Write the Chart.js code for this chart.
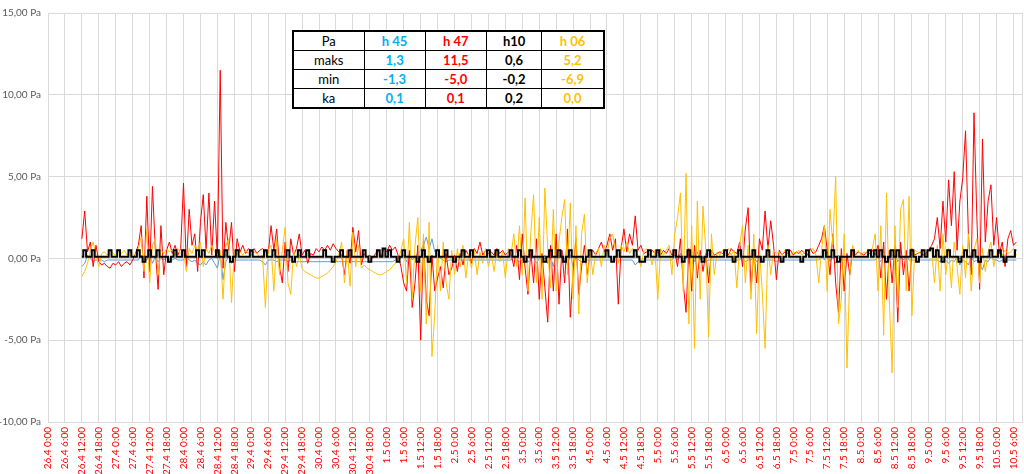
<!DOCTYPE html>
<html>
<head>
<meta charset="utf-8">
<script src="https://cdn.jsdelivr.net/npm/chart.js@4/dist/chart.umd.min.js"></script>
<style>
	body { margin: 0; background: #fff; }
	#wrap { position: relative; width: 1024px; height: 474px; }
	#stats {
		position: absolute; left: 292px; top: 30px; width: 313px; height: 77px;
		border-collapse: collapse; border: 2px solid #000; background: #fff;
		font-family: Lato, "Liberation Sans", sans-serif; font-size: 13px;
	}
	#stats td { border: 1px solid #000; text-align: center; padding: 0; height: 18px; }
	#stats td.b { font-weight: bold; }
</style>
</head>
<body>
<div id="wrap">
	<canvas id="chart" width="1024" height="474"></canvas>
	<table id="stats"></table>
</div>
<script>
// hours since 26.4 0:00 of the first sample, one sample per hour
const startHour = 12;

const tickLabels = [
	'26.4 0:00', '26.4 6:00', '26.4 12:00', '26.4 18:00',
	'27.4 0:00', '27.4 6:00', '27.4 12:00', '27.4 18:00',
	'28.4 0:00', '28.4 6:00', '28.4 12:00', '28.4 18:00',
	'29.4 0:00', '29.4 6:00', '29.4 12:00', '29.4 18:00',
	'30.4 0:00', '30.4 6:00', '30.4 12:00', '30.4 18:00',
	'1.5 0:00', '1.5 6:00', '1.5 12:00', '1.5 18:00',
	'2.5 0:00', '2.5 6:00', '2.5 12:00', '2.5 18:00',
	'3.5 0:00', '3.5 6:00', '3.5 12:00', '3.5 18:00',
	'4.5 0:00', '4.5 6:00', '4.5 12:00', '4.5 18:00',
	'5.5 0:00', '5.5 6:00', '5.5 12:00', '5.5 18:00',
	'6.5 0:00', '6.5 6:00', '6.5 12:00', '6.5 18:00',
	'7.5 0:00', '7.5 6:00', '7.5 12:00', '7.5 18:00',
	'8.5 0:00', '8.5 6:00', '8.5 12:00', '8.5 18:00',
	'9.5 0:00', '9.5 6:00', '9.5 12:00', '9.5 18:00',
	'10.5 0:00', '10.5 6:00'
];

const h45 = [
	-0.5, -0.3, 0.2, 0.0, -0.2, -0.1, -0.1, -0.1, -0.2, -0.1, -0.1, -0.1,
	-0.1, -0.1, -0.1, -0.1, -0.1, -0.1, -0.1, -0.1, -0.1, 0.2, -0.2, -0.1,
	0.3, -0.3, 0.1, -0.2, 0.0, -0.1, 0.1, -0.1, -0.1, 0.0, -0.1, -0.1,
	-0.1, 0.2, -0.1, -0.2, -0.1, -0.3, -0.4, -0.2, -0.4, -0.1, 0.0, -0.3,
	-0.6, 0.3, -1.3, -0.2, 0.1, -0.3, -0.1, -0.1, -0.1, -0.1, -0.1, -0.1,
	-0.1, -0.1, -0.1, -0.1, -0.2, -0.4, -0.1, -0.1, -0.1, -0.2, -0.1, -0.1,
	-0.1, -0.2, -0.1, -0.1, -0.2, -0.2, -0.2, -0.2, -0.2, -0.2, -0.2, -0.2,
	-0.2, -0.2, -0.2, -0.2, -0.2, -0.2, -0.2, -0.2, -0.2, -0.2, -0.2, -0.2,
	-0.2, -0.2, -0.2, -0.2, -0.2, -0.2, -0.2, -0.2, -0.2, -0.2, -0.2, -0.2,
	-0.2, -0.2, -0.2, -0.1, -0.1, 0.0, 0.2, -0.2, 0.3, -0.1, 0.1, 0.3,
	0.5, 0.8, 1.3, 0.6, 1.2, 0.4, 0.2, 0.0, -0.1, -0.2, -0.1, -0.1,
	-0.1, -0.1, -0.1, -0.1, -0.1, -0.1, -0.1, -0.1, -0.1, -0.1, -0.1, -0.1,
	-0.1, -0.1, -0.1, -0.1, -0.1, -0.1, -0.1, -0.1, -0.1, 0.1, -0.1, -0.2,
	-0.1, 0.2, -0.2, -0.1, 0.1, -0.3, 0.0, -0.1, 0.2, -0.3, 0.1, -0.5,
	0.3, 0.0, 0.5, -0.2, -0.4, 0.2, -0.5, 0.1, -0.1, -0.2, -0.1, -0.1,
	-0.1, -0.1, -0.1, -0.1, -0.1, -0.1, -0.1, -0.1, -0.1, -0.1, -0.1, -0.1,
	-0.1, -0.1, -0.1, -0.1, -0.4, -0.2, -0.1, -0.1, -0.1, -0.1, -0.1, -0.1,
	-0.1, -0.1, -0.1, -0.1, -0.1, -0.1, 0.2, -0.1, 0.3, -0.2, 0.1, -0.3,
	0.2, -0.2, 0.4, -0.1, 0.1, -0.2, -0.1, -0.1, -0.1, -0.1, -0.1, -0.1,
	-0.1, -0.1, -0.1, -0.1, -0.1, -0.1, 0.1, -0.2, -0.1, -0.1, 0.1, -0.2,
	-0.1, -0.1, -0.1, -0.1, -0.1, -0.1, -0.2, -0.1, -0.1, -0.1, -0.1, -0.1,
	-0.1, -0.1, -0.1, -0.1, -0.1, -0.1, -0.1, -0.1, -0.1, -0.1, 0.1, -0.1,
	0.4, -0.2, 0.1, -0.3, 0.2, -0.1, -0.1, -0.1, -0.1, -0.1, -0.1, -0.1,
	-0.1, -0.1, -0.1, -0.1, -0.1, -0.1, 0.1, -0.2, 0.2, -0.3, 0.1, -0.1,
	0.3, -0.2, 0.1, -0.1, 0.2, -0.1, -0.1, -0.1, -0.1, -0.1, -0.1, -0.1,
	-0.1, -0.1, -0.1, -0.1, -0.2, 0.1, -0.1, -0.3, -0.1, -0.2, 0.1, -0.4,
	-0.1, -0.2, -0.4, 0.1, -0.2, -0.1, -0.3, -0.7, -0.1, -0.2, 0.1, -0.1,
	-0.1, -0.2, -0.1, -0.1, -0.1, -0.1, -0.1, -0.1
];

const h47 = [
	1.2, 2.9, 0.4, 1.0, -0.5, 0.8, -0.2, -0.4, -0.3, -0.5, -0.6, -0.3,
	-0.4, -0.2, -0.5, -0.3, -0.2, -0.4, -0.1, 0.3, 0.8, 2.0, -1.2, 3.8,
	-0.8, 4.4, 0.6, -1.9, 2.0, -1.0, 0.5, 1.0, 0.3, 0.8, 0.2, 0.6,
	4.6, -0.5, 3.0, 0.8, 1.5, -0.8, 2.2, 3.9, 0.5, 4.0, 0.2, 3.5,
	0.0, 11.5, -0.6, 2.2, 0.5, 2.2, -0.8, 1.2, 0.4, 0.8, 0.3, 0.6,
	0.4, 0.6, 0.3, 0.5, 0.6, 0.4, 0.3, 2.0, 0.5, 1.8, -0.5, -1.5,
	1.0, -0.8, 1.2, 0.2, 0.6, 1.5, 0.2, 0.5, -0.3, 0.3, 0.2, 0.6,
	0.4, 0.7, 0.5, 0.8, 0.5, 0.9, 0.6, 0.4, 0.2, -1.0, 0.5, -0.3,
	1.9, 0.4, 1.7, -0.4, 0.3, 0.1, 0.2, 0.0, 0.3, 0.5, 0.1, 0.6,
	0.4, 0.8, 0.5, 0.7, 0.2, -0.5, -1.5, -2.0, 0.5, -3.0, -1.5, 0.8,
	-5.0, 1.1, -2.5, -3.5, 0.2, -2.0, -1.2, -0.5, -1.8, 0.3, -1.0, -0.6,
	0.2, -0.8, 0.3, -0.4, 0.5, 0.2, -0.3, 0.6, 0.3, 1.0, 0.2, 0.5,
	0.3, 0.4, 0.2, 0.6, 0.3, 0.5, 0.2, 0.4, 0.3, -0.5, 0.8, -1.3,
	1.5, -0.6, -2.2, 0.5, -1.5, 1.2, -2.5, 0.3, -1.8, -3.9, 0.8, -2.0,
	1.5, -2.8, 0.5, -1.5, 1.8, -3.6, -0.8, 1.2, -2.2, -0.5, 0.8, -1.0,
	0.3, 0.5, 0.2, 0.6, 1.0, 0.4, 0.8, 1.5, 0.5, 1.2, -2.8, 0.6,
	1.8, 0.4, 1.5, 0.8, 2.6, 0.5, 0.8, 0.3, 0.4, 0.2, 0.5, 0.3,
	0.4, 0.2, 0.5, 0.3, 0.6, 0.2, 0.4, -0.5, 1.2, -1.5, -3.3, 0.6,
	-2.0, 0.8, -1.2, 0.5, -0.8, 0.3, -1.5, 0.5, 0.2, 0.3, 0.4, 0.3,
	0.5, 0.2, 0.6, 0.4, 0.3, 1.0, -0.5, 1.8, 3.1, -2.0, 0.5, -1.5,
	1.2, 0.5, 2.9, 0.6, 2.3, 0.8, -1.3, 0.5, 0.2, 0.4, 0.3, 0.5,
	0.2, 0.4, 0.3, 0.5, 0.3, 0.2, 0.6, 0.3, 0.4, 0.8, 1.2, 2.0,
	0.5, -1.0, 1.5, -1.5, -3.3, 0.6, -2.0, 0.3, -1.0, 0.5, 0.2, 0.4,
	0.3, 0.2, 0.4, 0.3, 0.5, 0.2, 0.8, -1.2, 1.0, -2.5, 0.5, -1.5,
	0.8, -3.9, 1.0, -1.0, 0.5, -2.0, 0.6, 0.2, 0.3, 0.4, 0.2, 0.3,
	0.5, 0.8, 1.2, 2.5, 0.6, 3.5, 1.0, 4.8, 2.0, 5.3, 0.5, 3.5,
	4.9, 7.8, 1.5, -1.0, 8.9, 2.5, -1.9, 7.3, 1.0, 3.5, 4.5, 0.8,
	2.5, 0.3, 1.0, -0.5, 1.2, 1.7, 0.8, 1.0
];

const h10 = [
	0.1, 0.5, 0.1, 0.1, 0.5, 0.1, 0.1, 0.1, 0.1, 0.1, 0.5, 0.1,
	0.1, 0.5, 0.1, 0.1, 0.1, 0.5, 0.1, 0.1, 0.5, 0.1, -0.2, 0.1,
	0.5, 0.1, 0.1, 0.5, 0.1, 0.1, 0.1, -0.2, 0.1, 0.5, 0.1, 0.1,
	0.5, 0.1, 0.1, 0.1, 0.1, 0.5, 0.1, 0.5, 0.1, 0.1, 0.1, 0.1,
	0.5, 0.1, 0.1, 0.5, 0.1, -0.2, 0.1, 0.5, 0.1, 0.1, 0.1, 0.1,
	0.5, 0.1, 0.1, 0.1, 0.1, 0.5, 0.1, 0.1, 0.5, 0.1, 0.1, 0.1,
	0.1, 0.5, 0.1, -0.2, 0.1, 0.5, 0.1, 0.1, 0.5, 0.1, 0.1, 0.1,
	0.1, 0.1, 0.5, 0.1, 0.1, -0.2, 0.1, 0.1, 0.5, 0.1, 0.1, 0.5,
	0.1, 0.1, 0.1, 0.1, 0.5, 0.1, -0.2, 0.1, 0.1, 0.5, 0.1, 0.6,
	0.1, 0.5, 0.1, 0.1, -0.2, 0.1, 0.5, 0.1, 0.1, 0.1, 0.1, -0.2,
	0.1, 0.5, 0.1, -0.2, 0.1, 0.1, 0.5, 0.1, 0.1, 0.5, 0.1, 0.1,
	-0.2, 0.1, 0.1, 0.5, 0.1, 0.1, 0.5, 0.1, 0.1, 0.1, 0.1, 0.1,
	0.5, 0.1, 0.1, 0.5, 0.1, 0.1, 0.1, 0.1, 0.5, 0.1, 0.1, 0.5,
	0.1, -0.2, 0.1, 0.5, 0.1, 0.1, 0.1, 0.1, -0.2, 0.1, 0.5, 0.1,
	0.1, 0.5, 0.1, -0.2, 0.1, 0.5, 0.1, 0.1, 0.1, 0.1, -0.2, 0.1,
	0.5, 0.1, 0.1, 0.1, 0.1, 0.1, 0.5, 0.1, -0.2, 0.1, 0.5, 0.1,
	0.1, 0.1, 0.1, 0.1, 0.5, 0.1, -0.2, -0.2, 0.1, 0.5, 0.1, 0.1,
	0.5, 0.1, 0.1, 0.1, 0.1, 0.1, 0.5, 0.1, 0.1, -0.2, 0.1, 0.5,
	0.1, 0.1, 0.1, 0.1, -0.2, 0.1, 0.5, 0.1, 0.1, 0.1, 0.1, 0.1,
	0.5, 0.1, 0.1, -0.2, 0.1, 0.5, 0.1, 0.1, 0.1, 0.1, 0.5, 0.1,
	0.1, -0.2, 0.1, 0.5, 0.1, 0.1, 0.1, 0.1, -0.2, 0.1, 0.5, 0.1,
	0.1, 0.1, 0.1, -0.2, 0.1, 0.5, 0.1, 0.1, 0.1, 0.1, 0.1, 0.5,
	0.1, 0.1, 0.5, 0.1, -0.2, 0.1, 0.1, 0.1, 0.1, 0.5, 0.1, 0.1,
	0.1, 0.1, 0.1, 0.5, 0.1, 0.5, 0.1, 0.5, 0.1, -0.2, 0.1, 0.5,
	0.1, 0.5, 0.1, 0.1, 0.1, 0.1, 0.5, 0.1, -0.2, 0.1, 0.5, 0.1,
	0.5, 0.6, 0.1, 0.5, 0.1, -0.2, 0.1, 0.5, 0.1, 0.1, 0.1, -0.2,
	0.1, 0.5, 0.1, 0.1, 0.5, 0.1, -0.2, 0.1, 0.1, 0.1, 0.5, 0.1,
	0.1, 0.5, 0.1, -0.2, 0.1, 0.1, 0.1, 0.5
];

const h06 = [
	-1.1, -0.8, -0.3, 0.5, 1.0, 0.2, -0.5, 0.3, 0.4, 0.2, 0.5, 0.3,
	0.2, 0.4, 0.3, 0.5, 0.2, 0.4, 0.3, 0.2, 0.6, 1.3, -0.8, 1.8,
	-1.5, 0.8, 1.2, -1.0, 0.5, 0.3, 0.6, 0.4, 0.5, 0.2, 0.6, 0.3,
	0.4, -0.8, 0.6, 0.3, 0.8, 0.5, 1.0, -0.5, 0.6, 0.3, 0.8, 0.4,
	0.2, 0.5, -2.5, 0.8, 1.2, -2.7, 0.5, 0.3, 0.4, 0.2, 0.5, 0.3,
	0.2, 0.4, 0.3, 0.1, 0.2, -3.0, 0.5, 0.8, -2.0, 1.2, -1.0, 0.5,
	1.9, -1.5, -2.2, 0.5, -0.5, 0.2, -0.6, -0.8, -0.9, -1.0, -1.1, -1.2,
	-1.2, -1.1, -1.0, -0.9, -0.7, -0.5, -0.2, 0.2, 1.0, -1.5, 0.5, -1.7,
	1.6, -0.5, 0.8, -0.6, -0.4, -0.6, -0.7, -0.8, -0.9, -1.0, -1.0, -0.9,
	-0.8, -0.7, -0.5, -0.3, -0.2, 0.5, 1.2, -1.5, 2.2, -2.5, 0.8, 2.5,
	-2.0, 1.5, -4.0, 2.2, -6.0, -3.4, 0.8, -2.0, 1.0, -1.5, -2.5, 0.5,
	-1.0, 0.6, -0.5, 0.8, -1.2, 0.3, -0.6, 0.5, -1.0, 0.4, -0.3, 0.6,
	-0.5, 0.3, -0.8, 0.5, -0.2, 0.4, -1.2, 0.6, 0.2, 1.5, -0.5, 2.0,
	-1.0, 3.7, -2.0, 1.5, 3.9, -1.5, 2.5, -2.5, 4.3, 0.5, -1.8, 3.0,
	-2.0, 1.0, 2.5, 3.6, -1.0, 3.4, -2.5, 2.0, -3.4, 1.5, 2.7, -1.5,
	0.5, -1.0, 0.3, 0.6, -0.5, 0.8, 0.3, 1.2, 1.5, 0.5, -0.3, 0.8,
	0.4, 1.0, 0.3, 0.6, 0.5, 0.2, -0.5, 0.4, 0.6, 0.3, -0.4, 0.5,
	-2.5, 0.6, 0.2, 0.5, 0.8, -1.0, 1.5, 2.5, 4.0, -2.0, 5.2, -4.0,
	2.0, -5.5, 3.5, -2.5, 3.2, 0.5, -4.8, 1.5, -1.0, 0.4, 0.2, 0.5,
	0.3, 0.6, 0.2, 0.5, -1.8, 0.8, 2.0, -1.5, 0.8, -2.5, 1.5, -4.6,
	0.5, -2.0, -5.5, 0.8, -1.0, 0.5, 0.3, 0.4, 0.2, 0.5, 0.3, 0.2,
	0.4, 0.3, 0.5, 0.2, 0.4, 0.3, 0.5, 0.6, 0.2, -1.5, 0.5, 2.0,
	-2.0, 3.0, 0.8, 5.0, -4.0, -2.5, 1.5, -6.7, -1.0, 0.8, 0.3, 0.5,
	0.2, 0.4, 0.3, 0.5, 0.6, 1.5, -2.0, 2.0, -4.7, 4.0, -2.5, -7.0,
	2.0, -3.0, 3.0, 3.6, -2.0, 3.8, -3.5, 0.5, 0.4, 0.3, 0.5, 0.2,
	0.4, 0.5, -1.5, 0.8, -2.0, 1.5, -1.0, 0.6, -1.8, 1.0, -0.5, -2.2,
	0.8, -1.2, 1.5, -2.0, 0.5, 1.2, -1.5, 0.6, -0.8, 0.4, 1.0, -0.5,
	0.3, 0.6, 0.2, 0.5, 0.3, 0.4, 0.6, 0.2
];

// summary table
const tableCols = ['h 45', 'h 47', 'h10', 'h 06'];
const tableColours = ['#00B0F0', '#FF0000', '#000000', '#FFC000'];
const tableRows = ['maks', 'min', 'ka'];
const tableValues = [
	['1,3', '11,5', '0,6', '5,2'],
	['-1,3', '-5,0', '-0,2', '-6,9'],
	['0,1', '0,1', '0,2', '0,0']
];

var buildTable = () => {
	var t = document.getElementById('stats');
	var html = '<tr><td>Pa</td>';
	tableCols.forEach((c, i) => {
		html += `<td class="b" style="color:${tableColours[i]}">${c}</td>`;
	});
	html += '</tr>';
	tableRows.forEach((r, j) => {
		html += `<tr><td>${r}</td>`;
		tableValues[j].forEach((v, i) => {
			html += `<td class="b" style="color:${tableColours[i]}">${v}</td>`;
		});
		html += '</tr>';
	});
	t.innerHTML = html;
}

var toPoints = (arr) => arr.map((v, i) => ({ x: startHour + i, y: v }));

var line = (label, arr, colour, width, order, stepped) => ({
	label: label,
	data: toPoints(arr),
	borderColor: colour,
	backgroundColor: colour,
	borderWidth: width,
	pointRadius: 0,
	tension: 0,
	stepped: stepped || false,
	order: order
});

buildTable();

const xMax = 345;

new Chart(document.getElementById('chart'), {
	type: 'line',
	data: {
		datasets: [
			line('h 45', h45, '#5B9BD5', 1, 3),
			line('h 47', h47, '#FF0000', 1, 2),
			line('h 06', h06, '#FFC000', 1, 1),
			line('h10', h10, '#000000', 2, 0, 'middle')
		]
	},
	options: {
		responsive: false,
		animation: false,
		layout: { padding: { top: 7, right: 2, left: 0, bottom: 0 } },
		plugins: { legend: { display: false }, tooltip: { enabled: false } },
		scales: {
			x: {
				type: 'linear',
				min: 0,
				max: xMax,
				afterFit: (s) => {
					s.height = 52;
					s.paddingLeft = 0;
					s.paddingRight = 0;
				},
				afterBuildTicks: (s) => {
					var ticks = tickLabels.map((_, i) => ({ value: i * 6 }));
					ticks.push({ value: xMax });
					s.ticks = ticks;
				},
				grid: { color: '#D9D9D9', drawTicks: false },
				border: { color: '#D9D9D9' },
				ticks: {
					autoSkip: false,
					minRotation: 90,
					maxRotation: 90,
					padding: 5,
					color: '#FF0000',
					font: { family: 'Lato', size: 10 },
					callback: (v) => tickLabels[v / 6] || ''
				}
			},
			y: {
				min: -10,
				max: 15,
				afterFit: (s) => { s.width = 48; },
				grid: { color: '#D9D9D9', drawTicks: false },
				border: { display: false },
				ticks: {
					stepSize: 5,
					padding: 7,
					color: '#595959',
					font: { family: 'Lato', size: 10 },
					callback: (v) => v.toFixed(2).replace('.', ',') + ' Pa'
				}
			}
		}
	}
});
</script>
</body>
</html>
